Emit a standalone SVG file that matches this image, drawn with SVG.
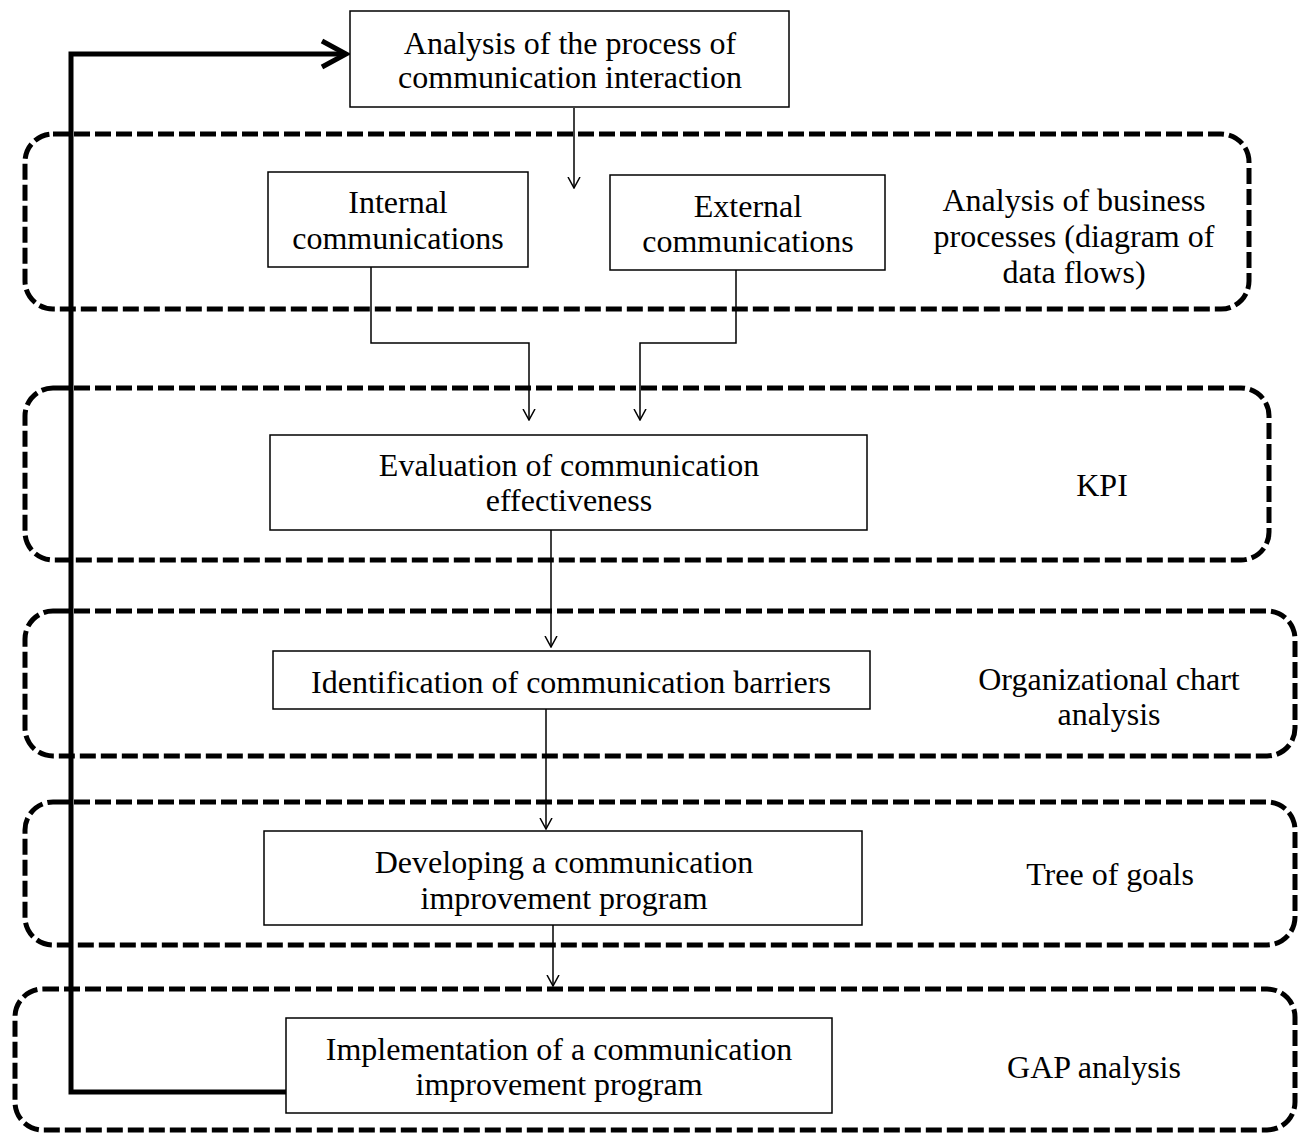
<svg xmlns="http://www.w3.org/2000/svg" width="1303" height="1133" viewBox="0 0 1303 1133">
<style>
.bg{fill:#fff}
.box{fill:#fff;stroke:#000;stroke-width:1.5}
.grp{fill:none;stroke:#000;stroke-width:5;stroke-dasharray:16 5}
.t{font-family:"Liberation Serif","Times New Roman",serif;font-size:32px;fill:#000;text-anchor:middle}
.c{fill:none;stroke:#000;stroke-width:1.5}
.fb{fill:none;stroke:#000;stroke-width:5}
</style>
<defs>
<marker id="ah" markerWidth="12" markerHeight="14" refX="11" refY="7" orient="auto" markerUnits="userSpaceOnUse" viewBox="0 0 12 14">
<polyline points="0,1 11,7 0,13" fill="none" stroke="#000" stroke-width="1.5"/>
</marker>
</defs>
<rect class="bg" x="0" y="0" width="1303" height="1133"/>
<g id="groups">
<rect id="g1" class="grp" x="25" y="134" width="1224" height="175" rx="28"/>
<rect id="g2" class="grp" x="25" y="388" width="1244" height="172" rx="28"/>
<rect id="g3" class="grp" x="25" y="611" width="1270" height="145" rx="28"/>
<rect id="g4" class="grp" x="25" y="802" width="1270" height="143" rx="28"/>
<rect id="g5" class="grp" x="15" y="989" width="1280" height="141" rx="28"/>
</g>
<g id="connectors">
<line class="c" x1="574" y1="108" x2="574" y2="188" marker-end="url(#ah)"/>
<polyline class="c" points="371,265 371,343 529,343 529,420" marker-end="url(#ah)"/>
<polyline class="c" points="736,268 736,343 640,343 640,420" marker-end="url(#ah)"/>
<line class="c" x1="551" y1="518" x2="551" y2="647" marker-end="url(#ah)"/>
<line class="c" x1="546" y1="709" x2="546" y2="829" marker-end="url(#ah)"/>
<line class="c" x1="553" y1="925" x2="553" y2="986" marker-end="url(#ah)"/>
<polyline class="fb" points="286,1092 71,1092 71,54 345,54"/>
<polyline class="fb" points="322,41 346,54 322,67" stroke-linejoin="miter"/>
</g>
<g id="n1">
<rect class="box" x="350" y="11" width="439" height="96"/>
<text class="t" x="570" y="54">Analysis of the process of</text>
<text class="t" x="570" y="88">communication interaction</text>
</g>
<g id="n2">
<rect class="box" x="268" y="172" width="260" height="95"/>
<text class="t" x="398" y="213">Internal</text>
<text class="t" x="398" y="249">communications</text>
</g>
<g id="n3">
<rect class="box" x="610" y="175" width="275" height="95"/>
<text class="t" x="748" y="217">External</text>
<text class="t" x="748" y="252">communications</text>
</g>
<g id="l1">
<text class="t" x="1074" y="211">Analysis of business</text>
<text class="t" x="1074" y="247">processes (diagram of</text>
<text class="t" x="1074" y="283">data flows)</text>
</g>
<g id="n4">
<rect class="box" x="270" y="435" width="597" height="95"/>
<text class="t" x="569" y="476">Evaluation of communication</text>
<text class="t" x="569" y="511">effectiveness</text>
</g>
<g id="l2"><text class="t" x="1102" y="496">KPI</text></g>
<g id="n5">
<rect class="box" x="273" y="651" width="597" height="58"/>
<text class="t" x="571" y="693">Identification of communication barriers</text>
</g>
<g id="l3">
<text class="t" x="1109" y="690">Organizational chart</text>
<text class="t" x="1109" y="725">analysis</text>
</g>
<g id="n6">
<rect class="box" x="264" y="831" width="598" height="94"/>
<text class="t" x="564" y="873">Developing a communication</text>
<text class="t" x="564" y="909">improvement program</text>
</g>
<g id="l4"><text class="t" x="1110" y="885">Tree of goals</text></g>
<g id="n7">
<rect class="box" x="286" y="1018" width="546" height="95"/>
<text class="t" x="559" y="1060">Implementation of a communication</text>
<text class="t" x="559" y="1095">improvement program</text>
</g>
<g id="l5"><text class="t" x="1094" y="1078">GAP analysis</text></g>
</svg>
